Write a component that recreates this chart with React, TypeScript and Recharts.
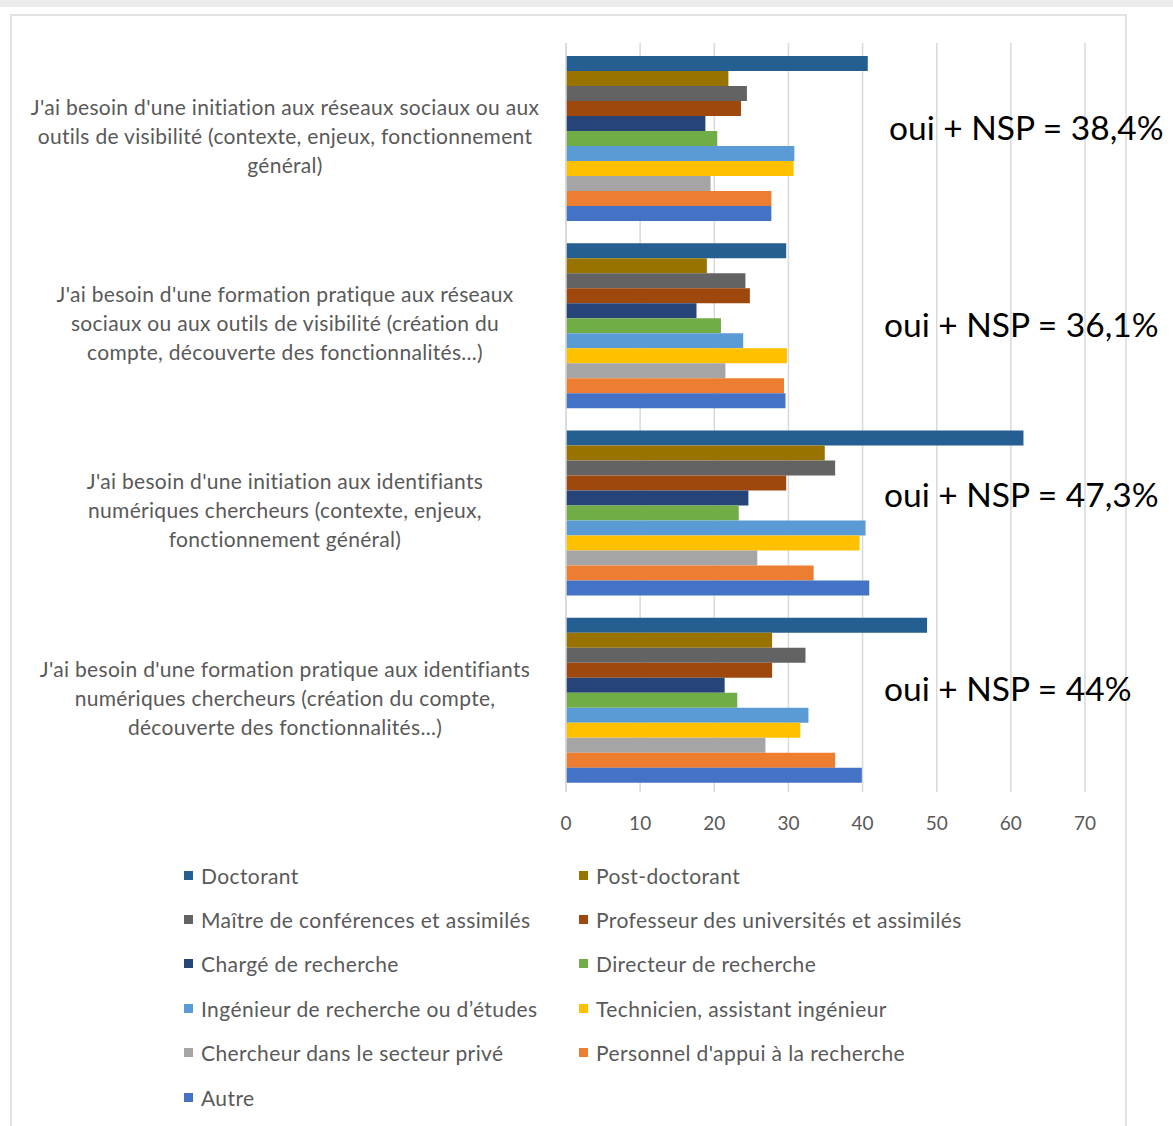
import { BarChart, Bar, XAxis, YAxis, CartesianGrid } from 'recharts';

const categories = [
  "J'ai besoin d'une initiation aux réseaux sociaux ou aux\noutils de visibilité (contexte, enjeux, fonctionnement\ngénéral)",
  "J'ai besoin d'une formation pratique aux réseaux\nsociaux ou aux outils de visibilité (création du\ncompte, découverte des fonctionnalités...)",
  "J'ai besoin d'une initiation aux identifiants\nnumériques chercheurs (contexte, enjeux,\nfonctionnement général)",
  "J'ai besoin d'une formation pratique aux identifiants\nnumériques chercheurs (création du compte,\ndécouverte des fonctionnalités...)",
];

const seriesNames = [
  'Doctorant',
  'Post-doctorant',
  'Maître de conférences et assimilés',
  'Professeur des universités et assimilés',
  'Chargé de recherche',
  'Directeur de recherche',
  'Ingénieur de recherche ou d’études',
  'Technicien, assistant ingénieur',
  'Chercheur dans le secteur privé',
  "Personnel d'appui à la recherche",
  'Autre',
];

const seriesColors = [
  '#255E91', '#997300', '#636363', '#9E480E', '#264478', '#70AD47',
  '#5B9BD5', '#FFC000', '#A5A5A5', '#ED7D31', '#4472C4',
];

// one array per series, values in category order
const doctorant = [40.7, 29.7, 61.7, 48.7];
const postDoctorant = [21.9, 19.0, 34.9, 27.8];
const maitreConf = [24.4, 24.2, 36.3, 32.3];
const professeur = [23.6, 24.8, 29.7, 27.8];
const chargeRech = [18.8, 17.6, 24.6, 21.4];
const directeurRech = [20.4, 20.9, 23.3, 23.1];
const ingenieur = [30.8, 23.9, 40.4, 32.7];
const technicien = [30.7, 29.8, 39.6, 31.6];
const chercheurPrive = [19.5, 21.5, 25.8, 26.9];
const personnelAppui = [27.7, 29.4, 33.4, 36.3];
const autre = [27.7, 29.6, 40.9, 39.9];

const seriesValues = [
  doctorant, postDoctorant, maitreConf, professeur, chargeRech, directeurRech,
  ingenieur, technicien, chercheurPrive, personnelAppui, autre,
];

const xTicks = [0, 10, 20, 30, 40, 50, 60, 70];

const annotations = [
  'oui + NSP = 38,4%',
  'oui + NSP = 36,1%',
  'oui + NSP = 47,3%',
  'oui + NSP = 44%',
];

const data = categories.map((name, i) => {
  const row: Record<string, string | number> = { name };
  seriesValues.forEach((vals, s) => {
    row[`s${s}`] = vals[i];
  });
  return row;
});

const FONT = 'Lato, "Open Sans", sans-serif';
const GRAY_TEXT = '#595959';

const CategoryTick = (props: any) => {
  const { y, payload } = props;
  const lines: string[] = String(payload.value).split('\n');
  const lh = 29;
  const start = -((lines.length - 1) * lh) / 2;
  return (
    <text
      x={285}
      y={y}
      textAnchor="middle"
      fill={GRAY_TEXT}
      fontSize={21}
      letterSpacing={0.3}
      fontFamily={FONT}
    >
      {lines.map((l, i) => (
        <tspan key={i} x={285} y={y + start + i * lh} dy="0.35em">
          {l}
        </tspan>
      ))}
    </text>
  );
};

const annotationPos = [
  { left: 889, top: 127 },
  { left: 884, top: 324 },
  { left: 884, top: 494 },
  { left: 884, top: 688 },
];

const App = () => {
  return (
    <div
      style={{
        position: 'absolute',
        left: 0,
        top: 0,
        width: 1173,
        height: 1126,
        overflow: 'hidden',
        background: '#fff',
        fontFamily: FONT,
      }}
    >
      <div style={{ position: 'absolute', left: 0, top: 0, width: 1173, height: 7, background: '#ececec' }} />
      <div
        style={{
          position: 'absolute',
          left: 10,
          top: 14,
          width: 1113,
          height: 1200,
          border: '2px solid #e2e2e2',
        }}
      />
      <div style={{ position: 'absolute', left: 0, top: 0 }}>
        <BarChart
          width={1173}
          height={850}
          data={data}
          layout="vertical"
          margin={{ top: 43, right: 88, bottom: 18, left: 0 }}
          barCategoryGap="7%"
          barGap={0}
        >
          <CartesianGrid horizontal={false} stroke="#d9d9d9" strokeWidth={1.5} />
          <XAxis
            type="number"
            domain={[0, 70]}
            ticks={xTicks}
            axisLine={false}
            tickLine={false}
            tickMargin={19}
            height={40}
            tick={{ fill: GRAY_TEXT, fontSize: 19, fontFamily: FONT }}
            interval={0}
          />
          <YAxis
            type="category"
            dataKey="name"
            width={566}
            tickLine={false}
            axisLine={{ stroke: '#d9d9d9', strokeWidth: 1.5 }}
            tick={<CategoryTick />}
            interval={0}
          />
          {seriesNames.map((n, s) => (
            <Bar
              key={n}
              dataKey={`s${s}`}
              name={n}
              fill={seriesColors[s]}
              isAnimationActive={false}
            />
          ))}
        </BarChart>
      </div>

      {annotations.map((a, i) => (
        <div
          key={a}
          style={{
            position: 'absolute',
            left: annotationPos[i].left,
            top: annotationPos[i].top,
            transform: 'translateY(-50%)',
            fontSize: 33.5,
            lineHeight: '40px',
            color: '#000',
            whiteSpace: 'nowrap',
          }}
        >
          {a}
        </div>
      ))}

      <div
        style={{
          position: 'absolute',
          left: 184,
          top: 853,
          display: 'grid',
          gridTemplateColumns: '395px 395px',
          gridAutoRows: '44.4px',
          alignItems: 'center',
        }}
      >
        {seriesNames.map((n, s) => (
          <div
            key={n}
            style={{
              display: 'flex',
              alignItems: 'center',
              color: GRAY_TEXT,
              fontSize: 21,
              letterSpacing: 0.4,
              whiteSpace: 'nowrap',
            }}
          >
            <span
              style={{
                display: 'inline-block',
                width: 9,
                height: 9,
                background: seriesColors[s],
                marginRight: 8,
              }}
            />
            {n}
          </div>
        ))}
      </div>
    </div>
  );
};

export default App;
